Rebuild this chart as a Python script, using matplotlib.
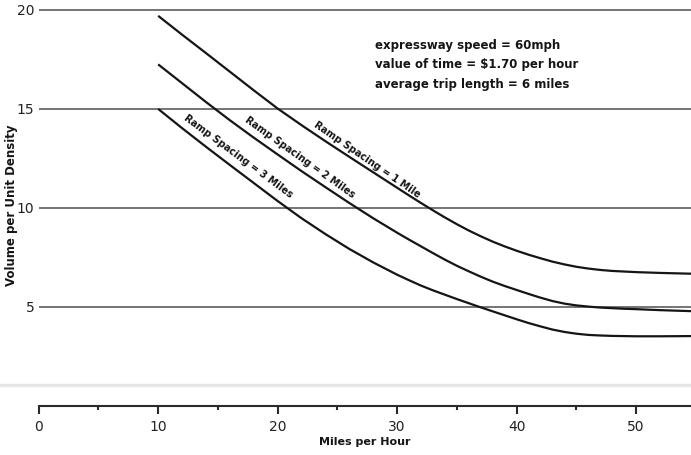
import matplotlib
matplotlib.use("Agg")
import matplotlib.pyplot as plt
from matplotlib.lines import Line2D
from matplotlib.ticker import MultipleLocator

# Speed (mph) at which each curve value was taken
speed = [10, 12, 14, 16, 18, 20, 22, 24, 26, 28,
         30, 31, 32, 33, 34, 35, 36, 37, 38, 39,
         40, 41, 42, 43, 44, 45, 46, 47, 48, 49,
         50, 52, 54.6]

# Volume per unit density for each ramp spacing
ramp_1_mile = [19.70, 18.75, 17.82, 16.88, 15.94, 15.02, 14.18, 13.37, 12.58, 11.80,
               11.02, 10.63, 10.25, 9.88, 9.52, 9.18, 8.86, 8.57, 8.30, 8.06,
               7.84, 7.64, 7.46, 7.29, 7.15, 7.03, 6.94, 6.87, 6.82, 6.79,
               6.76, 6.72, 6.68]
ramp_2_miles = [17.25, 16.30, 15.35, 14.43, 13.55, 12.70, 11.86, 11.05, 10.25, 9.48,
                8.75, 8.40, 8.06, 7.72, 7.39, 7.08, 6.80, 6.53, 6.28, 6.06,
                5.86, 5.66, 5.47, 5.30, 5.17, 5.08, 5.02, 4.97, 4.94, 4.91,
                4.89, 4.84, 4.79]
ramp_3_miles = [15.00, 14.03, 13.09, 12.17, 11.26, 10.35, 9.48, 8.68, 7.93, 7.25,
                6.63, 6.35, 6.08, 5.84, 5.62, 5.40, 5.19, 4.98, 4.78, 4.58,
                4.38, 4.19, 4.02, 3.86, 3.74, 3.65, 3.59, 3.56, 3.54, 3.53,
                3.52, 3.52, 3.53]

curve_labels = ["Ramp Spacing = 1 Mile", "Ramp Spacing = 2 Miles",
                "Ramp Spacing = 3 Miles"]

x_ticks = [0, 10, 20, 30, 40, 50]
y_ticks = [5, 10, 15, 20]

notes = ["expressway speed = 60mph",
         "value of time = $1.70 per hour",
         "average trip length = 6 miles"]

W, H = 691, 455
fig = plt.figure(figsize=(W / 100, H / 100), dpi=100)
fig.patch.set_facecolor("white")

x0_px, y0_px = 38.7, 406.0
ax = fig.add_axes([x0_px / W, (H - y0_px) / H, 1 - x0_px / W, y0_px / H])
ax.set_xlim(0, 54.6)
ax.set_ylim(0, 20.5)
ax.set_facecolor("none")

for side in ("left", "right", "top"):
    ax.spines[side].set_visible(False)
ax.spines["bottom"].set_color("#2a2a2a")
ax.spines["bottom"].set_linewidth(1.5)

ax.set_yticks(y_ticks)
ax.set_yticklabels([str(v) for v in y_ticks])
ax.set_xticks(x_ticks)
ax.set_xticklabels([str(v) for v in x_ticks])
ax.xaxis.set_minor_locator(MultipleLocator(5))
ax.tick_params(axis="y", length=0, pad=3, labelsize=10, labelcolor="#222222")
ax.tick_params(axis="x", which="major", direction="out", length=6, width=1.5,
               color="#2a2a2a", pad=4, labelsize=10, labelcolor="#222222")
ax.tick_params(axis="x", which="minor", direction="out", length=3, width=1.5,
               color="#2a2a2a")

ax.grid(axis="y", color="#6a6a6a", linewidth=1.3)
ax.set_axisbelow(True)

for values in (ramp_1_mile, ramp_2_miles, ramp_3_miles):
    ax.plot(speed, values, color="#151515", linewidth=1.6,
            solid_capstyle="butt", solid_joinstyle="round", clip_on=False)

# Labels laid along each curve
label_pos = [(27.5, 12.44, -34.5), (21.9, 12.53, -35.5), (16.7, 12.58, -36.5)]
for text, (lx, ly, ang) in zip(curve_labels, label_pos):
    ax.text(lx, ly, text, rotation=ang, rotation_mode="anchor",
            ha="center", va="center", fontsize=7, fontweight="bold",
            color="#151515")

for i, line in enumerate(notes):
    ax.text(28.14, 18.2 - i * 0.98, line, ha="left", va="center",
            fontsize=8.5, fontweight="bold", color="#151515")

ax.set_xlabel("Miles per Hour", fontsize=8, fontweight="bold",
              color="#151515", labelpad=2)
fig.text(12 / W, 1 - 205 / H, "Volume per Unit Density", rotation=90,
         ha="center", va="center", fontsize=8.5, fontweight="bold",
         color="#151515")

# faint horizontal band across the sheet just above the axis
fig.add_artist(Line2D([0, 1], [1 - 385 / H] * 2, transform=fig.transFigure,
                      color="#e6e6e6", linewidth=2.5, zorder=0))

fig.savefig("out.png", dpi=100, facecolor="white")
